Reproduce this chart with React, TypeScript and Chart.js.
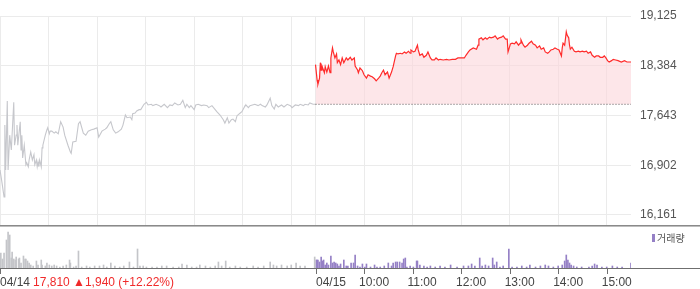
import React, { useEffect, useRef } from 'react';
import { Chart, registerables } from 'chart.js';

Chart.register(...registerables);

const FONT = '"Liberation Sans", Arial, sans-serif';

// ---- labels / ticks ----
const prevClose = 17810;
const closeLabel = '17,810';
const changeLabel = '▲1,940 (+12.22%)';
const dayLabels = ['04/14', '04/15'];
const dayStartMin = [0, 390];
const hourTickMin = [450, 510, 570, 630, 690, 750];
const hourTickLabels = ['10:00', '11:00', '12:00', '13:00', '14:00', '15:00'];
const gridMin = [0, 60, 120, 180, 240, 300, 360, 390, 450, 510, 570, 630, 690, 750];
const yTicks = [16161, 16902, 17643, 18384, 19125];
const yMin = 15997;
const yMax = 19125;
const legendLabel = '거래량';

// ---- 04/14 price (minutes from 09:00) ----
const d1Min = [0, 2, 5, 6, 7, 9, 10, 12, 14, 17, 18, 20, 21, 22, 25, 26, 27, 28, 30, 32, 33, 35, 36, 38, 40, 42, 43, 45, 46, 47, 48, 49, 51, 52, 53, 56, 58, 59, 61, 62, 64, 67, 69, 72, 75, 78, 80, 84, 87, 88, 90, 94, 97, 99, 103, 106, 109, 113, 116, 120, 122, 126, 130, 132, 135, 137, 140, 143, 146, 150, 152, 155, 157, 161, 163, 164, 167, 169, 172, 174, 178, 181, 183, 187, 189, 193, 197, 199, 203, 207, 210, 213, 216, 220, 223, 226, 229, 231, 234, 236, 240, 242, 245, 249, 252, 256, 258, 262, 266, 268, 272, 276, 278, 281, 283, 286, 288, 291, 293, 297, 299, 303, 304, 307, 309, 312, 315, 319, 322, 324, 328, 330, 334, 336, 339, 341, 344, 348, 351, 355, 359, 361, 365, 369, 371, 375, 377, 381, 383, 387, 390];
const d1Price = [16830, 16680, 16430, 17500, 16830, 17860, 16830, 17350, 17130, 17840, 17200, 17350, 17500, 17200, 17550, 17130, 17350, 17010, 17200, 16910, 16940, 16880, 16980, 17100, 16980, 17060, 16910, 16980, 16880, 16950, 16880, 16980, 16880, 17160, 17200, 17350, 17430, 17460, 17370, 17410, 17410, 17380, 17400, 17370, 17550, 17470, 17350, 17200, 17100, 17080, 17250, 17260, 17520, 17550, 17380, 17350, 17410, 17430, 17440, 17460, 17320, 17410, 17440, 17460, 17520, 17550, 17430, 17380, 17400, 17440, 17500, 17650, 17610, 17620, 17580, 17670, 17680, 17710, 17730, 17730, 17810, 17840, 17800, 17810, 17790, 17810, 17790, 17770, 17810, 17760, 17800, 17790, 17830, 17800, 17810, 17870, 17760, 17810, 17760, 17790, 17730, 17800, 17810, 17790, 17800, 17790, 17760, 17790, 17730, 17700, 17650, 17580, 17530, 17610, 17530, 17580, 17590, 17550, 17640, 17680, 17700, 17790, 17800, 17760, 17790, 17800, 17810, 17790, 17810, 17790, 17770, 17800, 17900, 17790, 17740, 17810, 17770, 17800, 17770, 17810, 17790, 17760, 17800, 17790, 17810, 17790, 17810, 17800, 17830, 17810, 17810];

// ---- 04/15 price (minutes, continuing the axis: 390 = 09:00) ----
const d2Min = [390, 392, 393, 395, 396, 397, 398, 401, 402, 404, 406, 408, 409, 411, 412, 414, 416, 417, 419, 421, 423, 425, 428, 430, 433, 435, 438, 439, 442, 443, 445, 448, 450, 453, 455, 458, 460, 463, 465, 468, 470, 472, 474, 476, 479, 481, 484, 486, 489, 490, 492, 495, 497, 500, 502, 505, 507, 508, 511, 513, 516, 517, 519, 522, 524, 527, 529, 532, 534, 537, 539, 542, 544, 548, 552, 555, 559, 563, 566, 570, 574, 576, 579, 581, 585, 589, 591, 592, 595, 597, 600, 602, 605, 607, 610, 612, 615, 617, 620, 622, 625, 627, 628, 631, 633, 636, 638, 641, 643, 644, 647, 649, 652, 654, 657, 659, 662, 664, 667, 669, 672, 674, 677, 679, 681, 684, 686, 689, 691, 694, 695, 696, 698, 700, 701, 703, 704, 705, 707, 710, 712, 715, 717, 720, 722, 725, 727, 730, 732, 735, 737, 740, 742, 745, 747, 749, 751, 753, 756, 758, 761, 764, 768, 772, 775, 780];
const d2Price = [18400, 18170, 18110, 18200, 18430, 18320, 18380, 18280, 18370, 18290, 18380, 18280, 18500, 18650, 18590, 18500, 18560, 18430, 18470, 18400, 18500, 18430, 18500, 18470, 18510, 18470, 18500, 18380, 18320, 18280, 18350, 18310, 18250, 18200, 18250, 18230, 18220, 18190, 18160, 18200, 18230, 18280, 18320, 18250, 18290, 18200, 18290, 18370, 18530, 18570, 18560, 18570, 18560, 18590, 18570, 18600, 18570, 18620, 18590, 18600, 18690, 18620, 18540, 18560, 18510, 18540, 18590, 18500, 18470, 18470, 18500, 18470, 18480, 18470, 18480, 18470, 18480, 18480, 18500, 18500, 18500, 18540, 18590, 18620, 18650, 18630, 18690, 18780, 18800, 18770, 18800, 18780, 18810, 18800, 18810, 18830, 18780, 18800, 18810, 18830, 18780, 18780, 18590, 18710, 18720, 18710, 18740, 18690, 18720, 18770, 18690, 18660, 18690, 18720, 18750, 18710, 18690, 18650, 18680, 18630, 18650, 18590, 18570, 18590, 18620, 18630, 18650, 18630, 18620, 18530, 18650, 18720, 18690, 18890, 18840, 18800, 18690, 18630, 18660, 18600, 18590, 18600, 18590, 18600, 18590, 18600, 18570, 18590, 18540, 18510, 18530, 18530, 18510, 18510, 18530, 18500, 18460, 18440, 18460, 18480, 18470, 18460, 18440, 18460, 18440, 18440];

// ---- volume ----
const d1VolMin = [1, 3, 5, 8, 10, 12, 14, 15, 17, 19, 20, 23, 24, 26, 29, 31, 32, 34, 36, 38, 41, 45, 47, 51, 52, 56, 58, 61, 64, 67, 70, 74, 78, 82, 86, 87, 91, 94, 97, 101, 107, 111, 117, 123, 128, 132, 137, 142, 148, 153, 160, 165, 170, 173, 177, 181, 188, 194, 200, 206, 214, 221, 225, 231, 237, 243, 247, 254, 260, 266, 270, 274, 279, 284, 291, 297, 305, 313, 319, 326, 334, 338, 342, 348, 355, 360, 366, 371, 377, 389];
const d1Vol = [15, 9, 15, 28, 36, 33, 10, 16, 9, 8, 11, 9, 10, 5, 12, 9, 9, 7, 5, 3, 2, 7, 3, 8, 3, 2, 5, 3, 2, 3, 2, 1, 2, 3, 8, 5, 1, 2, 17, 1, 2, 1, 2, 2, 3, 1, 5, 2, 1, 2, 6, 1, 19, 2, 2, 1, 1, 1, 2, 2, 1, 1, 4, 3, 1, 1, 3, 2, 1, 2, 6, 2, 7, 1, 2, 1, 1, 2, 1, 2, 6, 3, 2, 3, 2, 3, 5, 2, 2, 11];
const d2VolMin = [391, 392, 393, 395, 397, 399, 400, 402, 404, 406, 409, 411, 413, 415, 417, 419, 421, 425, 428, 430, 434, 437, 439, 442, 445, 448, 451, 453, 458, 463, 466, 470, 475, 480, 484, 486, 489, 491, 494, 497, 499, 501, 503, 507, 511, 515, 516, 519, 524, 528, 532, 538, 544, 550, 557, 565, 573, 579, 583, 587, 593, 596, 600, 604, 609, 611, 614, 618, 622, 629, 633, 639, 645, 651, 655, 662, 668, 674, 678, 684, 690, 695, 698, 700, 702, 704, 706, 709, 713, 719, 728, 732, 735, 738, 744, 750, 757, 763, 769, 780];
const d2Vol = [8, 8, 8, 6, 11, 7, 8, 3, 5, 3, 12, 5, 6, 5, 4, 2, 4, 8, 2, 2, 5, 5, 13, 2, 1, 4, 1, 4, 1, 3, 1, 1, 2, 5, 2, 5, 6, 6, 6, 5, 9, 10, 1, 2, 1, 7, 7, 3, 2, 1, 2, 1, 2, 1, 3, 1, 2, 2, 4, 2, 10, 2, 3, 2, 10, 3, 6, 1, 2, 19, 1, 1, 2, 1, 3, 1, 2, 3, 2, 1, 2, 3, 7, 13, 8, 5, 3, 2, 1, 1, 1, 2, 4, 3, 1, 1, 2, 1, 1, 5];
const volMax = 39;

// ---- colours ----
const RED = '#ff2b2b';
const RED_TEXT = '#f02a2a';
const FILL = 'rgba(252, 214, 219, 0.6)';
const GRAY_LINE = '#c6c7cc';
const GRID = '#ebebeb';
const VOL_GRAY = '#c4c5c9';
const VOL_PURPLE = '#9580c6';

const zip = (xs: number[], ys: number[]) => xs.map((x, i) => ({ x, y: ys[i] }));

const noPad = (s: any) => {
  s.paddingTop = 0;
  s.paddingBottom = 0;
  s.paddingLeft = 0;
  s.paddingRight = 0;
};

export default function App() {
  const mainRef = useRef<HTMLCanvasElement>(null);
  const volRef = useRef<HTMLCanvasElement>(null);

  useEffect(() => {
    document.body.style.margin = '0';

    const bottomLine = {
      id: 'bottomLine',
      afterDraw(chart: any) {
        const ctx = chart.ctx;
        const b = chart.chartArea.bottom;
        ctx.save();
        ctx.fillStyle = '#8a8a8a';
        ctx.fillRect(0, b - 1, chart.width, 1);
        ctx.fillStyle = '#bdbdbd';
        ctx.fillRect(0, b, chart.width, 1);
        ctx.restore();
      },
    };

    const main = new Chart(mainRef.current!, {
      type: 'line',
      data: {
        datasets: [
          {
            data: [{ x: dayStartMin[1], y: prevClose }, { x: 780, y: prevClose }],
            borderColor: '#555',
            borderWidth: 1,
            borderDash: [1, 2],
            pointRadius: 0,
            fill: false,
            order: 1,
          },
          {
            data: zip(d2Min, d2Price),
            borderColor: RED,
            borderWidth: 1.2,
            pointRadius: 0,
            fill: { value: prevClose },
            backgroundColor: FILL,
            order: 2,
          },
          {
            data: zip(d1Min, d1Price),
            borderColor: GRAY_LINE,
            borderWidth: 1.1,
            pointRadius: 0,
            fill: false,
            order: 3,
          },
        ],
      },
      options: {
        responsive: false,
        animation: false,
        devicePixelRatio: 1,
        layout: { padding: { top: 16, bottom: 1, left: 0, right: 0 } },
        plugins: { legend: { display: false }, tooltip: { enabled: false } },
        scales: {
          x: {
            type: 'linear',
            min: 0,
            max: 780,
            afterBuildTicks: (s: any) => {
              s.ticks = gridMin.map((v) => ({ value: v }));
            },
            afterFit: (s: any) => {
              s.height = 0;
              noPad(s);
            },
            ticks: { display: false },
            grid: { color: GRID, drawTicks: false },
            border: { display: false },
          },
          y: {
            type: 'linear',
            position: 'right',
            min: yMin,
            max: yMax,
            afterBuildTicks: (s: any) => {
              s.ticks = yTicks.map((v) => ({ value: v }));
            },
            afterFit: (s: any) => {
              s.width = 69;
              noPad(s);
            },
            ticks: {
              padding: 9,
              color: '#555',
              font: { family: FONT, size: 12 },
              callback: (v: any) => Number(v).toLocaleString('en-US'),
            },
            grid: { color: GRID, drawTicks: false },
            border: { display: false },
          },
        },
      } as any,
      plugins: [bottomLine],
    });

    const axisPlugin = {
      id: 'timeAxis',
      afterDraw(chart: any) {
        const ctx = chart.ctx;
        const xs = chart.scales.x;
        const b = chart.chartArea.bottom;
        ctx.save();
        ctx.fillStyle = '#6f6f6f';
        ctx.fillRect(0, b, chart.width, 1);
        const tickVals = [...dayStartMin, ...hourTickMin];
        tickVals.forEach((v) => {
          const px = Math.round(xs.getPixelForValue(v));
          ctx.fillRect(px, b, 1, 6);
        });
        ctx.font = `12px ${FONT}`;
        ctx.textBaseline = 'middle';
        ctx.textAlign = 'left';
        const ty = b + 15;
        ctx.fillStyle = '#444';
        const x0 = xs.getPixelForValue(dayStartMin[0]);
        ctx.fillText(dayLabels[0], x0, ty);
        const w0 = ctx.measureText(dayLabels[0]).width;
        ctx.fillStyle = RED_TEXT;
        ctx.fillText(`${closeLabel} ${changeLabel}`, x0 + w0 + 3, ty);
        ctx.fillStyle = '#444';
        ctx.fillText(dayLabels[1], Math.round(xs.getPixelForValue(dayStartMin[1])), ty);
        hourTickMin.forEach((v, i) => {
          ctx.fillText(hourTickLabels[i], xs.getPixelForValue(v) - 5, ty);
        });
        ctx.restore();
      },
    };

    const vol = new Chart(volRef.current!, {
      type: 'bar',
      data: {
        datasets: [
          {
            data: zip(d1VolMin, d1Vol),
            backgroundColor: VOL_GRAY,
            barThickness: 1,
            grouped: false,
          },
          {
            data: zip(d2VolMin, d2Vol),
            backgroundColor: VOL_PURPLE,
            barThickness: 1,
            grouped: false,
          },
        ],
      },
      options: {
        responsive: false,
        animation: false,
        devicePixelRatio: 1,
        layout: { padding: { top: 2, bottom: 21, left: 0, right: 69 } },
        plugins: { legend: { display: false }, tooltip: { enabled: false } },
        scales: {
          x: { type: 'linear', min: 0, max: 780, offset: false, display: false },
          y: { min: 0, max: volMax, display: false },
        },
      } as any,
      plugins: [axisPlugin],
    });

    return () => {
      main.destroy();
      vol.destroy();
    };
  }, []);

  return (
    <div style={{ position: 'relative', width: 700, height: 289, background: '#fff', overflow: 'hidden' }}>
      <canvas ref={mainRef} width={700} height={227} style={{ position: 'absolute', left: 0, top: 0 }} />
      <canvas ref={volRef} width={700} height={62} style={{ position: 'absolute', left: 0, top: 227 }} />
      <div
        style={{
          position: 'absolute',
          left: 652,
          top: 232,
          display: 'flex',
          alignItems: 'center',
          fontFamily: '"Noto Sans CJK KR", sans-serif',
          fontSize: 10,
          color: '#555',
          lineHeight: '12px',
        }}
      >
        <span style={{ display: 'inline-block', width: 3, height: 8, background: VOL_PURPLE, marginRight: 2 }} />
        <span>{legendLabel}</span>
      </div>
    </div>
  );
}
